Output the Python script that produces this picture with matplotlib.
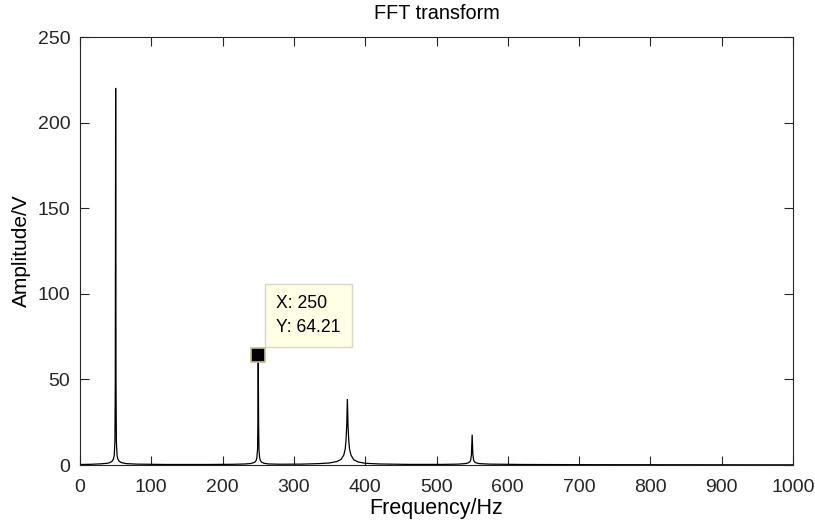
import matplotlib.pyplot as plt

plt.rcParams["font.family"] = ["Liberation Sans", "DejaVu Sans"]

freq = [0, 15, 30, 38, 42, 45, 47, 48, 49, 49.5, 50, 50.5, 51, 52, 53, 55, 58, 65, 80,
        120, 180, 215, 232, 240, 245, 247, 248, 249, 249.5, 250, 250.5, 251, 252, 253,
        255, 258, 265, 280, 310, 335, 350, 360, 366, 370, 372, 373, 374, 375, 376, 377,
        378, 380, 384, 390, 400, 420, 460, 510, 530, 540, 545, 547, 548, 549, 550, 551,
        552, 553, 555, 560, 575, 620, 700, 850, 1000]
amp = [0.3, 0.4, 0.7, 1.0, 1.4, 2.2, 3.6, 5.5, 14, 50, 220, 50, 14, 5.5, 3.6, 2.2, 1.4,
       0.8, 0.5, 0.3, 0.3, 0.4, 0.6, 0.9, 1.6, 2.6, 4.0, 9, 24, 64.21, 24, 9, 4.0, 2.6,
       1.6, 1.0, 0.6, 0.45, 0.5, 0.8, 1.2, 2.0, 3.2, 5.8, 9.5, 14, 22, 38.3, 22, 14,
       9.5, 5.8, 3.0, 1.8, 1.0, 0.6, 0.35, 0.35, 0.5, 0.8, 1.3, 2.0, 3.0, 6.0, 17.5,
       6.0, 3.0, 2.0, 1.3, 0.8, 0.5, 0.3, 0.2, 0.15, 0.1]

tip_x, tip_y = 250, 64.21

fig = plt.figure(figsize=(8.15, 5.21), dpi=100)
ax = fig.add_axes([80 / 815, 1 - 465 / 521, 713 / 815, 428 / 521])

ax.plot(freq, amp, color="black", linewidth=0.9)

# data tip
ax.plot(tip_x, tip_y, marker="s", markersize=10, markerfacecolor="black",
        markeredgecolor="#c4bc94", markeredgewidth=1.2, zorder=5)
ax.annotate(f"X: {tip_x}\nY: {tip_y:.2f}", xy=(tip_x, tip_y), xytext=(275, 87.5),
            textcoords="data", fontsize=12.7, linespacing=1.55, va="center", ha="left",
            bbox=dict(boxstyle="square,pad=0.62", facecolor="#ffffe6",
                      edgecolor="#d8d8c8", linewidth=1))

ax.set_xlim(0, 1000)
ax.set_ylim(0, 250)
ax.set_xticks(range(0, 1001, 100))
ax.set_yticks(range(0, 251, 50))
ax.tick_params(direction="in", which="both", top=True, right=True, length=6.5,
               labelsize=14, colors="#262626", pad=7)
ax.tick_params(axis="x", pad=10)
for sp in ax.spines.values():
    sp.set_color("#262626")
    sp.set_linewidth(0.8)

ax.set_title("FFT transform", fontsize=14.3, color="black", pad=13)
ax.set_xlabel("Frequency/Hz", fontsize=15.5, labelpad=1.5)
ax.set_ylabel("Amplitude/V", fontsize=15, labelpad=5)

fig.savefig("out.png", dpi=100)
